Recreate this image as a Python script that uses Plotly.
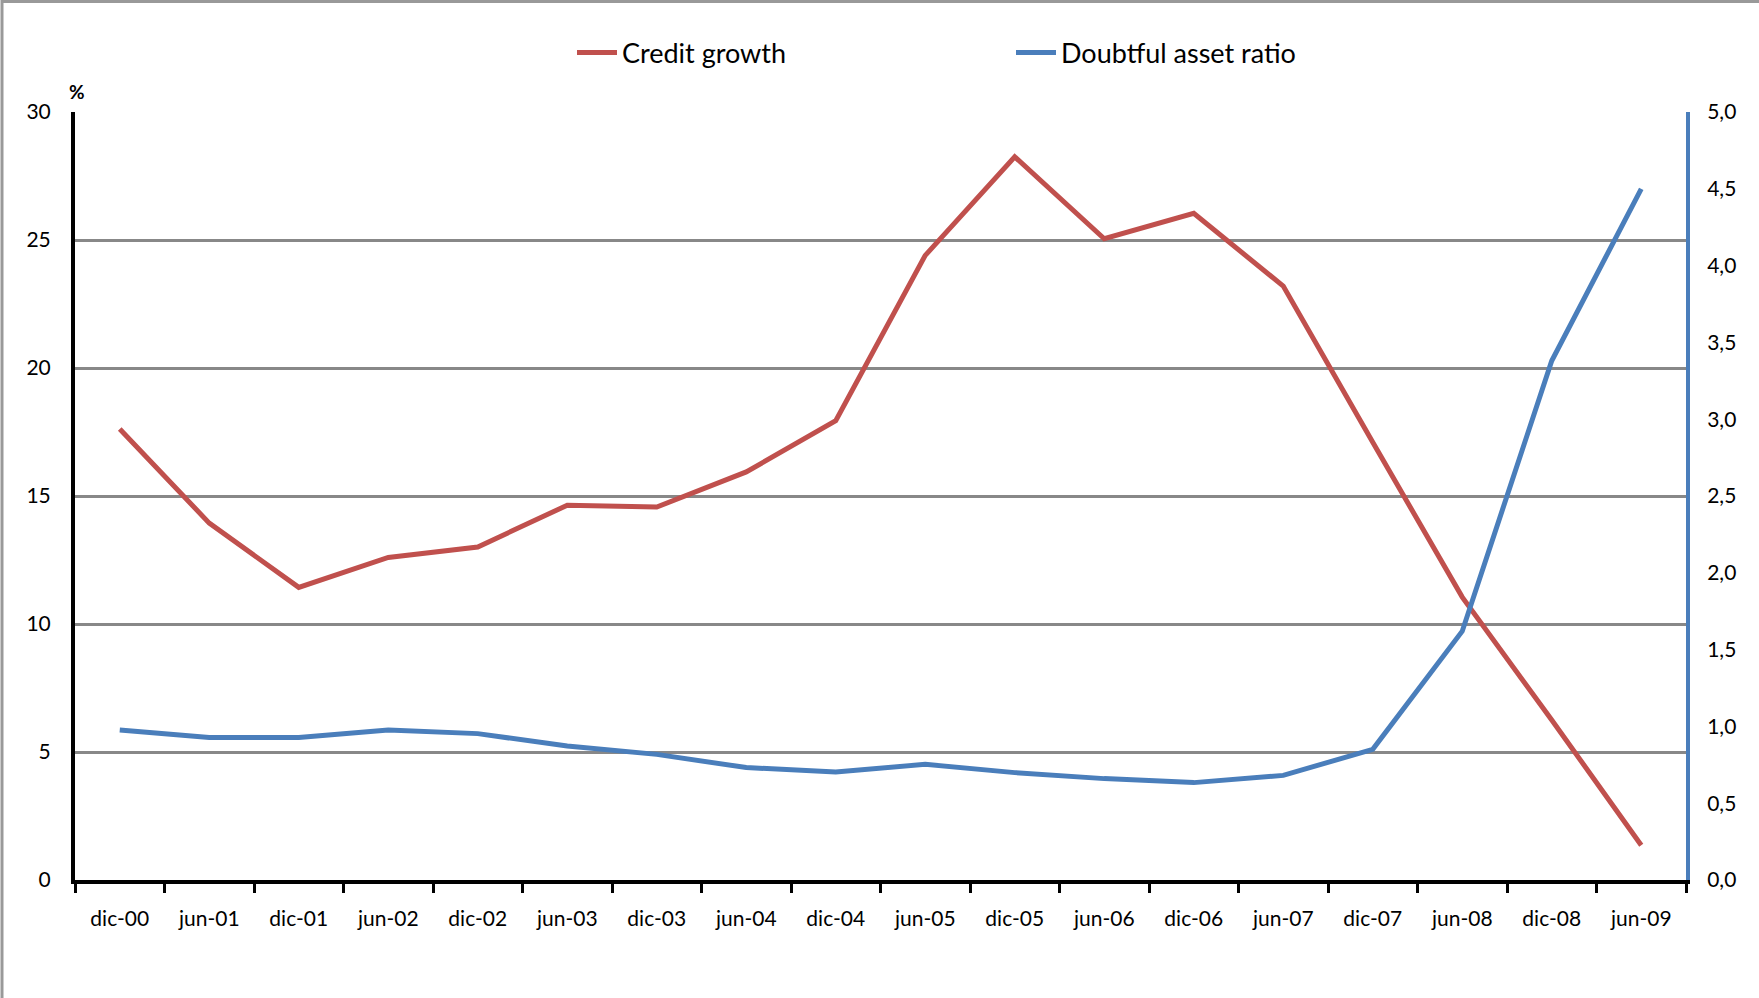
import plotly.graph_objects as go

categories = ["dic-00", "jun-01", "dic-01", "jun-02", "dic-02", "jun-03", "dic-03", "jun-04",
              "dic-04", "jun-05", "dic-05", "jun-06", "dic-06", "jun-07", "dic-07", "jun-08",
              "dic-08", "jun-09"]
credit_growth = [17.62, 13.94, 11.43, 12.60, 13.01, 14.64, 14.57, 15.94,
                 17.94, 24.40, 28.25, 25.05, 26.04, 23.20, 17.10, 11.05,
                 6.25, 1.36]
doubtful_ratio = [0.976, 0.927, 0.927, 0.976, 0.953, 0.872, 0.818, 0.732,
                  0.703, 0.753, 0.699, 0.660, 0.634, 0.681, 0.851, 1.62,
                  3.38, 4.50]
left_ticks = [0, 5, 10, 15, 20, 25, 30]
right_ticks = [0, 0.5, 1, 1.5, 2, 2.5, 3, 3.5, 4, 4.5, 5]

RED = "#C0504D"
BLUE = "#4A7EBB"
FONT = "Lato"

W, H = 1759, 998
L, R, T, B = 75, 1759 - 1686, 112, 998 - 880
pw, ph = W - L - R, H - T - B


def px_x(x):
    return (x - L) / pw


def px_y(y):
    return (H - B - y) / ph


fig = go.Figure()
fig.add_trace(go.Scatter(x=categories, y=credit_growth, name="Credit growth",
                         mode="lines", line=dict(color=RED, width=5), yaxis="y"))
fig.add_trace(go.Scatter(x=categories, y=doubtful_ratio, name="Doubtful asset ratio",
                         mode="lines", line=dict(color=BLUE, width=5), yaxis="y2"))

fig.update_layout(
    width=W, height=H,
    margin=dict(l=L, r=R, t=T, b=B, pad=0),
    paper_bgcolor="white", plot_bgcolor="white",
    separators=",.",
    font=dict(family=FONT, size=21, color="black"),
    showlegend=True,
    legend=dict(orientation="h", x=px_x(572), xanchor="left",
                y=px_y(53), yanchor="middle",
                entrywidth=384, entrywidthmode="pixels",
                font=dict(family=FONT, size=27, color="black"),
                itemwidth=40, bgcolor="rgba(0,0,0,0)"),
    xaxis=dict(type="category", tickson="boundaries", ticks="outside", ticklen=9,
               tickwidth=3, tickcolor="black", showline=True, linecolor="black",
               linewidth=3.5, showgrid=False, range=[-0.5, 17.5],
               ticklabelstandoff=17, tickfont=dict(family=FONT, size=21)),
    yaxis=dict(range=[0, 30], tickvals=left_ticks, showgrid=True, gridcolor="#888888",
               gridwidth=2.5, showline=True, linecolor="black", linewidth=4,
               zeroline=False, ticks="", ticklabelstandoff=16,
               tickfont=dict(family=FONT, size=21)),
    yaxis2=dict(range=[0, 5], tickvals=right_ticks, tickformat=".1f", overlaying="y",
                side="right", showgrid=False, showline=True, linecolor=BLUE,
                linewidth=4, zeroline=False, ticks="", ticklabelstandoff=13,
                tickfont=dict(family=FONT, size=21)),
    annotations=[dict(text="<b>%</b>", x=px_x(77), y=px_y(91), xanchor="center",
                      yanchor="middle", xref="paper", yref="paper", showarrow=False,
                      font=dict(family=FONT, size=19, color="black"))],
    shapes=[
        dict(type="line", xref="paper", yref="paper", x0=px_x(2), x1=px_x(W + 5),
             y0=px_y(1.5), y1=px_y(1.5), line=dict(color="#999999", width=3)),
        dict(type="line", xref="paper", yref="paper", x0=px_x(2), x1=px_x(2),
             y0=px_y(0), y1=px_y(H + 5), line=dict(color="#999999", width=3)),
    ],
)

fig.write_html("out.html", config={"displayModeBar": False},
               post_script="document.body.style.margin='0';document.body.style.padding='0';")
